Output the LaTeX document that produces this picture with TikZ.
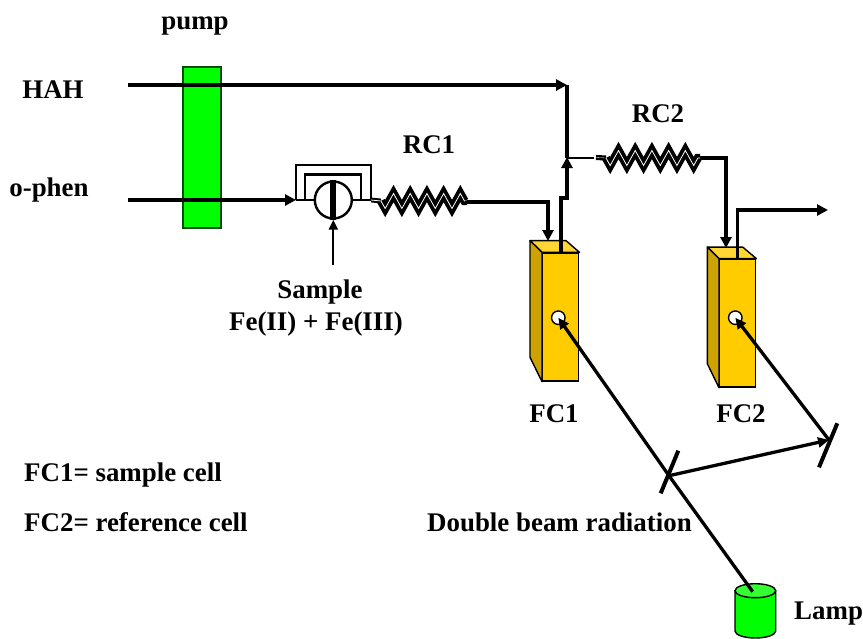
\documentclass[tikz,border=0pt]{standalone}
\usepackage{fontspec}
\setmainfont{Liberation Serif}
\usetikzlibrary{arrows.meta,decorations.pathmorphing,shapes.geometric}
\definecolor{cellfront}{HTML}{FFCC00}
\definecolor{celltop}{HTML}{FFD633}
\definecolor{cellside}{HTML}{CCA300}
\definecolor{lampgreen}{HTML}{00FF00}
\definecolor{lamptop}{HTML}{33FF33}
\tikzset{
  lbl/.style={inner sep=0pt,anchor=base,font=\bfseries\fontsize{26.9}{30}\selectfont},
  lbll/.style={lbl,anchor=base west},
  flow/.style={line width=3.3pt,-{Triangle[length=11pt,width=11pt]}},
  pipe/.style={line width=3.3pt},
  thin pipe/.style={line width=2.2pt},
  beam/.style={line width=3.3pt,-{Triangle[length=11pt,width=10pt]}},
  mirror/.style={line width=4pt},
  coil/.style={line width=3.8pt,draw=black,double=white,double distance=0.8pt,line join=miter,
    decorate,decoration={zigzag,mirror,segment length=16.7pt,amplitude=7.5pt}},
  front/.style={draw=black,line width=1.4pt,fill=cellfront,inner sep=0pt,minimum width=36pt,minimum height=128pt},
  hole/.style={draw=black,line width=1.4pt,fill=white,circle,inner sep=0pt,minimum size=13.5pt},
}
\begin{document}
\begin{tikzpicture}[x=1pt,y=-1pt]
\useasboundingbox (0,0) rectangle (863,638);
% pump
\node[draw=black!70!green,line width=2.4pt,fill=lampgreen,inner sep=0pt,minimum width=38pt,minimum height=161pt] (pump) at (202,147.5) {};
% named points
\coordinate (hahS) at (128,85);
\coordinate (hahE) at (567,85);
\coordinate (phenS) at (128,200);
\coordinate (valveIn) at (296,200);
\coordinate (valveOut) at (371,200);
\coordinate (c1a) at (381,201);
\coordinate (c1b) at (467,201);
\coordinate (c2a) at (606,158);
\coordinate (c2b) at (700,158);
\coordinate (tee) at (567,158);
% cells
\node[front] (fc1) at (560.7,317) {};
\draw[line width=1.4pt,fill=celltop,line join=round] (fc1.north west) -- ++(-12,-11.7) -- ++(36,0) -- (fc1.north east) -- cycle;
\draw[line width=1.4pt,fill=cellside,line join=round] (fc1.north west) -- ++(-12,-11.7) -- ++(0,116.6) -- (fc1.south west) -- cycle;
\node[front,minimum height=127.7pt] (fc2) at (737.7,323.2) {};
\draw[line width=1.4pt,fill=celltop,line join=round] (fc2.north west) -- ++(-11.7,-11.6) -- ++(35.4,0) -- (fc2.north east) -- cycle;
\draw[line width=1.4pt,fill=cellside,line join=round] (fc2.north west) -- ++(-11.7,-11.6) -- ++(0,116.6) -- (fc2.south west) -- cycle;
\node[hole] (h1) at (558.3,317.7) {};
\node[hole] (h2) at (735.3,317.7) {};
% HAH and o-phen lines
\draw[flow] (hahS) -- (hahE);
\draw[flow] (phenS) -- (valveIn);
% valve
\node[draw=black,line width=2.4pt,fill=white,circle,inner sep=0pt,minimum size=37pt] (valve) at (333.3,200) {};
\draw[thin pipe] (valveIn) -- (valve.west);
\draw[thin pipe] (valve.east) -- (valveOut);
\draw[line width=6pt] (valve.north) -- (valve.south);
\draw[line width=2.2pt] (valveIn) -- (296,165) -- (371,165) -- (valveOut);
\draw[line width=2.2pt] (305,200) -- (305,174.5) -- (361,174.5) -- (361,200);
\coordinate (sampleS) at (333.3,265);
\draw[line width=2pt,-{Triangle[length=10pt,width=9pt]}] (sampleS) -- (valve.south);
% coil 1
\draw[line width=2pt,double=white,double distance=0.8pt] (valveOut) -- (c1a);
\draw[coil] (c1a) -- (c1b);
\coordinate (fc1in) at (548,241);
\draw[flow] (c1b) -- (467,202) -- (548,202) -- (fc1in);
% outlet of FC1
\coordinate (fc1out) at (561,253);
\draw[pipe] (fc1out) -- (561,198) -- (567,198) -- (567,168);
\draw[flow] (567,199) -- (567,157);
\draw[pipe] (hahE) -- (tee);
% coil 2
\draw[line width=2.6pt] (tee) -- (594,158);
\draw[line width=2.4pt,double=white,double distance=0.3pt] (596,157.5) -- (c2a);
\draw[coil] (c2a) -- (c2b);
\coordinate (fc2in) at (726,248);
\draw[flow] (c2b) -- (726,158) -- (fc2in);
% outlet of FC2
\coordinate (fc2out) at (737.5,259);
\coordinate (outE) at (828,210);
\draw[flow] (fc2out) -- (737.5,210) -- (outE);
% mirrors
\coordinate (m1a) at (678.3,450.7);
\coordinate (m1b) at (660.7,493.3);
\coordinate (m2a) at (837.3,423.3);
\coordinate (m2b) at (819,467.3);
\coordinate (m1) at (669,475.7);
\coordinate (m2) at (829,440);
\draw[mirror] (m1a) -- (m1b);
\draw[mirror] (m2a) -- (m2b);
% lamp
\draw[line width=1.4pt,fill=lampgreen] (735,590.7) -- (735,631) arc[start angle=180,end angle=360,x radius=20.35,y radius=-7] -- (775.7,590.7) -- cycle;
\node[draw=black,line width=1.4pt,fill=lamptop,ellipse,inner sep=0pt,minimum width=40.7pt,minimum height=14pt] (lamp) at (755.35,590.7) {};
% beams
\coordinate (lampTop) at (752.7,591.7);
\draw[line width=3.3pt] (lampTop) -- (m1);
\draw[beam] (m1) -- (h1.center);
\draw[beam] (m1) -- (m2);
\draw[beam] (m2) -- (h2.center);
% labels
\node[lbl] (tpump) at (195,29) {pump};
\node[lbl] (thah) at (53,98) {HAH};
\node[lbl] (tphen) at (49,196) {o-phen};
\node[lbl] (trc1) at (429,153) {RC1};
\node[lbl] (trc2) at (658,122) {RC2};
\node[lbl] (tsample) at (320,298) {Sample};
\node[lbl] (tfe) at (316,330) {Fe(II) + Fe(III)};
\node[lbl] (tfc1) at (554,422) {FC1};
\node[lbl] (tfc2) at (741,422) {FC2};
\node[lbll] (tk1) at (24,481) {FC1= sample cell};
\node[lbll] (tk2) at (24,531) {FC2= reference cell};
\node[lbll] (tdb) at (427,531) {Double beam radiation};
\node[lbll] (tlamp) at (794,619) {Lamp};
\end{tikzpicture}
\end{document}
